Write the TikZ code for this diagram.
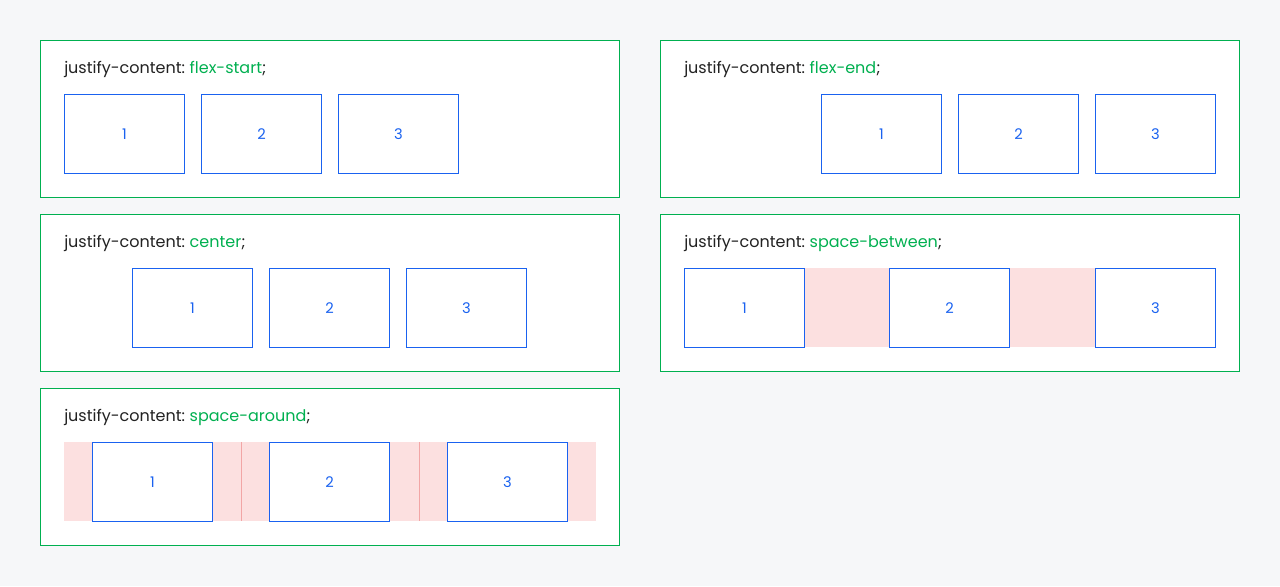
\documentclass[tikz,border=0pt]{standalone}
\usepackage{fontspec}
\setmainfont{Poppins}[WordSpace=0.75]
\definecolor{pagebg}{HTML}{F6F7F9}
\definecolor{panelgreen}{HTML}{00B050}
\definecolor{itemblue}{HTML}{1A62F0}
\definecolor{gapfill}{HTML}{FCE0E0}
\definecolor{gapline}{HTML}{F2A6A6}
\definecolor{labeltext}{HTML}{222222}
\begin{document}
\begin{tikzpicture}[x=0.75pt,y=-0.75pt,
  panel/.style={draw=panelgreen,fill=white,line width=0.75pt,inner sep=0pt,anchor=north west,minimum width=434.25pt,minimum height=117.75pt},
  item/.style={draw=itemblue,fill=white,line width=0.75pt,inner sep=0pt,anchor=north west,minimum width=90pt,minimum height=59.25pt,text=itemblue,font=\fontsize{11}{13}\selectfont},
  caption/.style={anchor=base west,inner sep=0pt,text=labeltext,font=\fontsize{12}{14}\selectfont},
  val/.style={text=panelgreen}]
\useasboundingbox (0,0) rectangle (1280,586);
\fill[pagebg] (0,0) rectangle (1280,586);

% panels
\node[panel] (p1) at (40,40) {};
\node[panel] (p2) at (660,40) {};
\node[panel] (p3) at (40,214) {};
\node[panel] (p4) at (660,214) {};
\node[panel] (p5) at (40,388) {};

% captions
\node[caption] (c1) at (64,73) {justify-content: \textcolor{panelgreen}{flex-start};};
\node[caption] (c2) at (684,73) {justify-content: \textcolor{panelgreen}{flex-end};};
\node[caption] (c3) at (64,247) {justify-content: \textcolor{panelgreen}{center};};
\node[caption] (c4) at (684,247) {justify-content: \textcolor{panelgreen}{space-between};};
\node[caption] (c5) at (64,421) {justify-content: \textcolor{panelgreen}{space-around};};

% free space bands
\fill[gapfill] (804,268) rectangle (889,347);
\fill[gapfill] (1009,268) rectangle (1095,347);
\fill[gapfill] (64,442) rectangle (596,521);
\draw[gapline,line width=0.75pt] (241,442) -- (241,521);
\draw[gapline,line width=0.75pt] (419,442) -- (419,521);

% flex-start
\node[item] (a1) at (64,94) {1};
\node[item] (a2) at (201,94) {2};
\node[item] (a3) at (338,94) {3};
% flex-end
\node[item] (b1) at (821,94) {1};
\node[item] (b2) at (958,94) {2};
\node[item] (b3) at (1095,94) {3};
% center
\node[item] (d1) at (132,268) {1};
\node[item] (d2) at (269,268) {2};
\node[item] (d3) at (406,268) {3};
% space-between
\node[item] (e1) at (684,268) {1};
\node[item] (e2) at (889,268) {2};
\node[item] (e3) at (1095,268) {3};
% space-around
\node[item] (f1) at (92,442) {1};
\node[item] (f2) at (269,442) {2};
\node[item] (f3) at (447,442) {3};
\end{tikzpicture}
\end{document}
